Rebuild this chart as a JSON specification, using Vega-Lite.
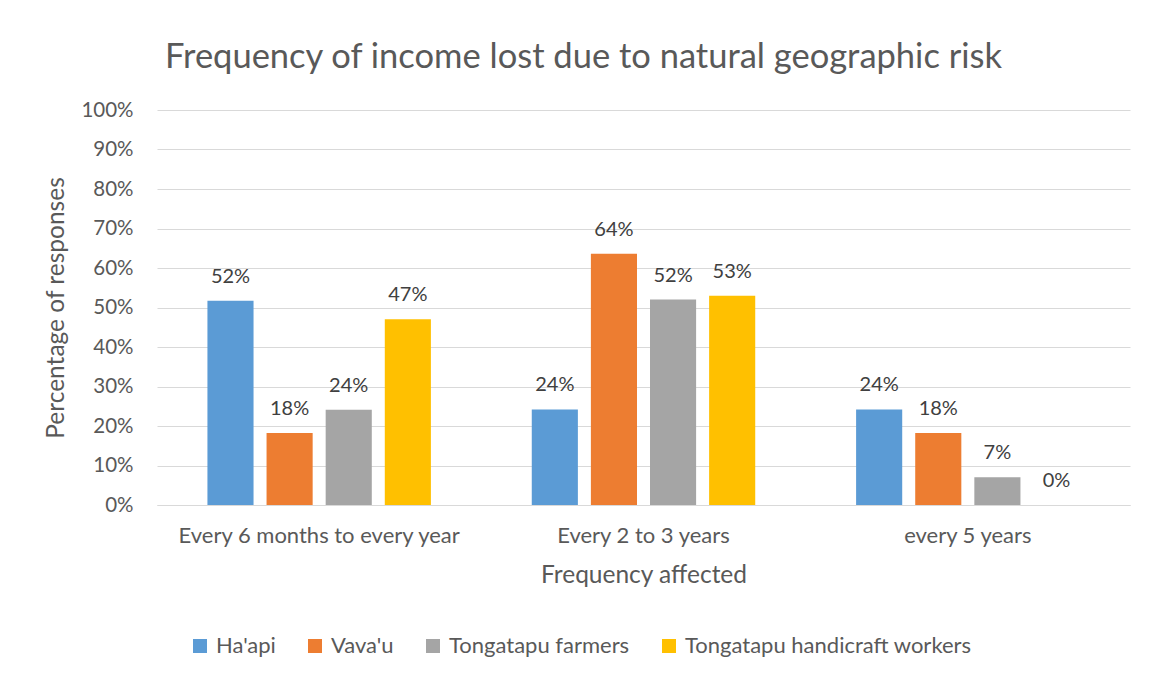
{
  "$schema": "https://vega.github.io/schema/vega-lite/v6.json",
  "width": 973,
  "height": 395,
  "autosize": {"type": "none"},
  "padding": {"left": 157, "top": 110, "right": 20, "bottom": 173},
  "background": "white",
  "config": {
    "font": "Lato",
    "view": {"stroke": null}
  },
  "title": {
    "text": "Frequency of income lost due to natural geographic risk",
    "font": "Lato",
    "fontSize": 34.5,
    "fontWeight": "normal",
    "color": "#595959",
    "offset": 25,
    "dx": -60
  },
  "data": {
    "values": [
      {"freq": "Every 6 months to every year", "group": "Ha'api", "value": 0.517},
      {"freq": "Every 6 months to every year", "group": "Vava'u", "value": 0.182},
      {"freq": "Every 6 months to every year", "group": "Tongatapu farmers", "value": 0.241},
      {"freq": "Every 6 months to every year", "group": "Tongatapu handicraft workers", "value": 0.47},
      {"freq": "Every 2 to 3 years", "group": "Ha'api", "value": 0.242},
      {"freq": "Every 2 to 3 years", "group": "Vava'u", "value": 0.636},
      {"freq": "Every 2 to 3 years", "group": "Tongatapu farmers", "value": 0.52},
      {"freq": "Every 2 to 3 years", "group": "Tongatapu handicraft workers", "value": 0.53},
      {"freq": "every 5 years", "group": "Ha'api", "value": 0.242},
      {"freq": "every 5 years", "group": "Vava'u", "value": 0.182},
      {"freq": "every 5 years", "group": "Tongatapu farmers", "value": 0.07},
      {"freq": "every 5 years", "group": "Tongatapu handicraft workers", "value": 0}
    ]
  },
  "encoding": {
    "x": {
      "field": "freq",
      "type": "nominal",
      "sort": ["Every 6 months to every year", "Every 2 to 3 years", "every 5 years"],
      "scale": {"paddingInner": 0.311, "paddingOuter": 0.1555},
      "axis": {
        "title": "Frequency affected",
        "labelAngle": 0,
        "labelFont": "Lato",
        "labelFontSize": 22,
        "labelColor": "#595959",
        "labelPadding": 20,
        "labelLimit": 0,
        "ticks": false,
        "domain": true,
        "domainColor": "#d9d9d9",
        "domainWidth": 1,
        "titleFont": "Lato",
        "titleFontSize": 24.5,
        "titleFontWeight": "normal",
        "titleColor": "#595959",
        "titlePadding": 17
      }
    },
    "xOffset": {
      "field": "group",
      "sort": ["Ha'api", "Vava'u", "Tongatapu farmers", "Tongatapu handicraft workers"],
      "scale": {"paddingInner": 0.22, "paddingOuter": 0}
    },
    "y": {
      "field": "value",
      "type": "quantitative",
      "scale": {"domain": [0, 1], "nice": false},
      "axis": {
        "title": "Percentage of responses",
        "format": ".0%",
        "values": [0, 0.1, 0.2, 0.3, 0.4, 0.5, 0.6, 0.7, 0.8, 0.9, 1],
        "labelFont": "Lato",
        "labelFontSize": 20.5,
        "labelColor": "#595959",
        "labelPadding": 24,
        "ticks": false,
        "domain": false,
        "grid": true,
        "gridColor": "#d9d9d9",
        "gridWidth": 1,
        "titleFont": "Lato",
        "titleFontSize": 24.5,
        "titleFontWeight": "normal",
        "titleColor": "#595959",
        "titlePadding": 12
      }
    }
  },
  "layer": [
    {
      "mark": {"type": "bar"},
      "encoding": {
        "color": {
          "field": "group",
          "type": "nominal",
          "sort": ["Ha'api", "Vava'u", "Tongatapu farmers", "Tongatapu handicraft workers"],
          "scale": {
            "domain": ["Ha'api", "Vava'u", "Tongatapu farmers", "Tongatapu handicraft workers"],
            "range": ["#5B9BD5", "#ED7D31", "#A5A5A5", "#FFC000"]
          },
          "legend": {
            "title": null,
            "orient": "none",
            "direction": "horizontal",
            "legendX": 32,
            "legendY": 525,
            "symbolType": "square",
            "symbolSize": 196,
            "symbolStrokeWidth": 0,
            "symbolOpacity": 1,
            "labelFont": "Lato",
            "labelFontSize": 22,
            "labelColor": "#595959",
            "labelOffset": 5,
            "labelLimit": 0,
            "columnPadding": 28
          }
        }
      }
    },
    {
      "mark": {
        "type": "text",
        "baseline": "alphabetic",
        "dy": -18,
        "font": "Lato",
        "fontSize": 20,
        "color": "#404040"
      },
      "encoding": {
        "text": {"field": "value", "type": "quantitative", "format": ".0%"}
      }
    }
  ]
}
